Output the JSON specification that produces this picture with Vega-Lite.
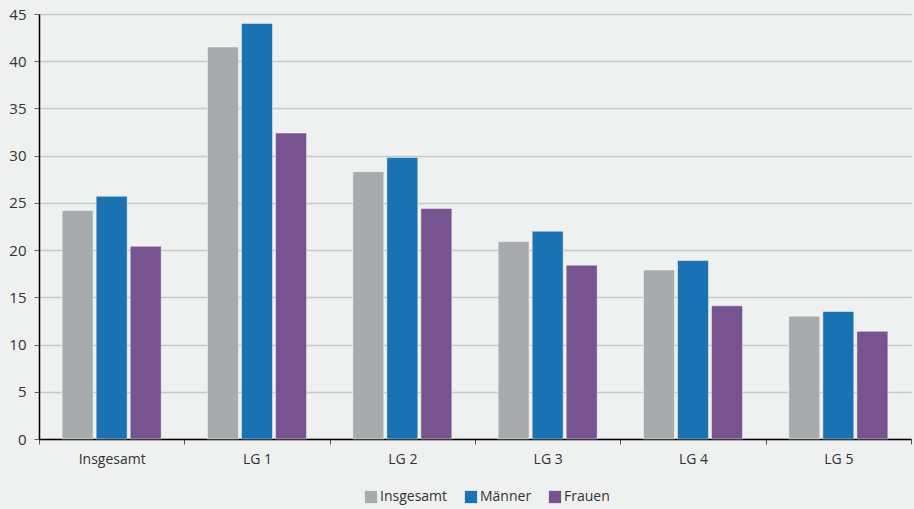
{
  "$schema": "https://vega.github.io/schema/vega-lite/v6.json",
  "autosize": {"type": "none"},
  "padding": {"left": 39, "top": 14, "right": 3, "bottom": 70},
  "width": 872,
  "height": 425,
  "background": "#eff0f0",
  "config": {
    "view": {"stroke": null},
    "font": "Open Sans",
    "axis": {"labelFont": "Open Sans", "labelColor": "#333333", "labelFontSize": 14},
    "legend": {"labelFont": "Open Sans", "labelColor": "#333333", "labelFontSize": 14}
  },
  "data": {
    "values": [
      {"gruppe": "Insgesamt", "serie": "Insgesamt", "wert": 24.2},
      {"gruppe": "Insgesamt", "serie": "Männer", "wert": 25.7},
      {"gruppe": "Insgesamt", "serie": "Frauen", "wert": 20.4},
      {"gruppe": "LG 1", "serie": "Insgesamt", "wert": 41.5},
      {"gruppe": "LG 1", "serie": "Männer", "wert": 44.0},
      {"gruppe": "LG 1", "serie": "Frauen", "wert": 32.4},
      {"gruppe": "LG 2", "serie": "Insgesamt", "wert": 28.3},
      {"gruppe": "LG 2", "serie": "Männer", "wert": 29.8},
      {"gruppe": "LG 2", "serie": "Frauen", "wert": 24.4},
      {"gruppe": "LG 3", "serie": "Insgesamt", "wert": 20.9},
      {"gruppe": "LG 3", "serie": "Männer", "wert": 22.0},
      {"gruppe": "LG 3", "serie": "Frauen", "wert": 18.4},
      {"gruppe": "LG 4", "serie": "Insgesamt", "wert": 17.9},
      {"gruppe": "LG 4", "serie": "Männer", "wert": 18.9},
      {"gruppe": "LG 4", "serie": "Frauen", "wert": 14.1},
      {"gruppe": "LG 5", "serie": "Insgesamt", "wert": 13.0},
      {"gruppe": "LG 5", "serie": "Männer", "wert": 13.5},
      {"gruppe": "LG 5", "serie": "Frauen", "wert": 11.4}
    ]
  },
  "mark": {"type": "bar", "stroke": "#ffffff", "strokeOpacity": 0.45, "strokeWidth": 1},
  "encoding": {
    "x": {
      "field": "gruppe", "type": "nominal", "sort": null, "title": null,
      "scale": {"paddingInner": 0, "paddingOuter": 0},
      "axis": {"labelAngle": 0, "domainColor": "#000000", "domainWidth": 1.5, "tickColor": "#555555", "tickSize": 5, "tickBand": "extent", "labelPadding": 8}
    },
    "xOffset": {
      "field": "serie", "type": "nominal", "sort": ["Insgesamt", "Männer", "Frauen"],
      "scale": {"paddingInner": 0.09, "paddingOuter": 0.68}
    },
    "y": {
      "field": "wert", "type": "quantitative", "title": null,
      "scale": {"domain": [0, 45]},
      "axis": {"values": [0, 5, 10, 15, 20, 25, 30, 35, 40, 45], "domainColor": "#000000", "domainWidth": 1.5, "tickColor": "#666666", "tickSize": 5, "gridColor": "#c8c9c9", "gridWidth": 1.5, "labelPadding": 8, "labelFontSize": 15}
    },
    "color": {
      "field": "serie", "type": "nominal", "sort": ["Insgesamt", "Männer", "Frauen"],
      "scale": {"domain": ["Insgesamt", "Männer", "Frauen"], "range": ["#a8abae", "#1b72b3", "#77538f"]},
      "legend": {"orient": "none", "legendX": 325, "legendY": 476, "padding": 0, "direction": "horizontal", "title": null, "symbolType": "square", "symbolSize": 150, "symbolStrokeWidth": 0, "symbolOpacity": 1, "labelOffset": 2, "columnPadding": 16}
    }
  }
}
